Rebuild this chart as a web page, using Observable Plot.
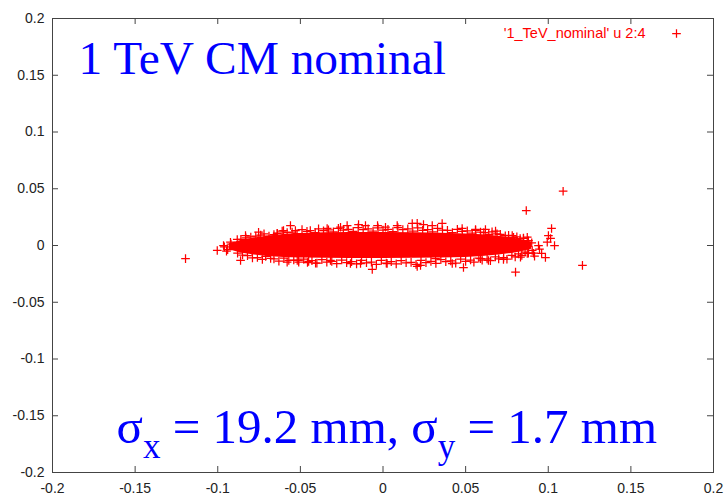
<!DOCTYPE html>
<html>
<head>
<meta charset="utf-8">
<script src="https://cdn.jsdelivr.net/npm/d3@7"></script>
<script src="https://cdn.jsdelivr.net/npm/@observablehq/plot@0.6"></script>
<style>
  html, body { margin: 0; padding: 0; background: #fff; }
</style>
</head>
<body>
<div id="chart"></div>
<script>
// ---- tick values ----
const xTicks = [-0.2, -0.15, -0.1, -0.05, 0, 0.05, 0.1, 0.15, 0.2];
const yTicks = [-0.2, -0.15, -0.1, -0.05, 0, 0.05, 0.1, 0.15, 0.2];

// ---- dense core of the beam (envelope) ----
const coreX      = [-0.093, -0.086, -0.078, -0.070, -0.060, -0.050, -0.035, -0.020, 0.000, 0.020, 0.035, 0.050, 0.060, 0.070, 0.078, 0.084, 0.090];
const coreTop    = [0.0015, 0.0045, 0.0065, 0.0082, 0.0098, 0.0106, 0.0112, 0.0114, 0.0114, 0.0112, 0.0108, 0.0102, 0.0094, 0.0082, 0.0068, 0.0050, 0.0030];
const coreBottom = [-0.0038, -0.0065, -0.0083, -0.0096, -0.0105, -0.0110, -0.0113, -0.0114, -0.0114, -0.0113, -0.0110, -0.0105, -0.0096, -0.0084, -0.0070, -0.0054, -0.0034];

// ---- individual visible points (x = column 2, y = column 4) ----
const scatterX = [
  -0.1195, -0.1003, -0.0965, -0.0947, -0.0923, -0.0882, -0.0862, -0.0832, -0.0792, -0.0753,
  -0.0640, -0.0602, -0.0580, -0.0519, -0.0560, -0.0530, -0.0511, -0.0457, -0.0408, -0.0338,
  -0.0318, -0.0257, -0.0217, -0.0197, -0.0148, -0.0136, -0.0106, -0.0065, -0.0033, 0.0015,
  0.0025, 0.0086, 0.0177, 0.0207, 0.0207, 0.0227, 0.0245, 0.0298, 0.0318, 0.0358,
  0.0419, 0.0479, 0.0487, 0.0560, 0.0590, 0.0620, 0.0638, 0.0681, 0.0729, 0.0782,
  0.0802, 0.0832, 0.0850, 0.0867, 0.0873, 0.0873, 0.0903, 0.0911, 0.0917, 0.0941,
  0.0947, 0.0960, 0.0983, 0.0994, 0.1001, 0.1014, 0.1020, 0.1038, 0.1090, 0.1207,
  -0.086, -0.080, -0.074, -0.069, -0.064, -0.058, -0.052, -0.046, -0.041, -0.036,
  -0.030, -0.024, -0.018, -0.012, -0.006, 0.000, 0.006, 0.012, 0.018, 0.024,
  0.030, 0.036, 0.042, 0.048, 0.054, 0.059, 0.064, 0.069, 0.074, 0.079,
  0.083, 0.088,
  -0.088, -0.082, -0.076, -0.071, -0.066, -0.060, -0.054, -0.048, -0.043, -0.037,
  -0.031, -0.025, -0.019, -0.013, -0.007, -0.001, 0.005, 0.011, 0.017, 0.023,
  0.029, 0.035, 0.041, 0.047, 0.053, 0.058, 0.063, 0.068, 0.073, 0.078,
  0.082, 0.086, -0.096, -0.092, -0.094,
  -0.083, -0.077, -0.072, -0.066, -0.061, -0.055, -0.049, -0.044, -0.039, -0.033,
  -0.027, -0.021, -0.015, -0.009, -0.003, 0.003, 0.009, 0.015, 0.021, 0.027,
  0.033, 0.039, 0.045, 0.051, 0.056, 0.061, 0.066, 0.071, 0.076, 0.081,
  0.085, 0.090,
  -0.085, -0.079, -0.073, -0.068, -0.063, -0.057, -0.051, -0.045, -0.040, -0.034,
  -0.028, -0.022, -0.016, -0.010, -0.004, 0.002, 0.008, 0.014, 0.020, 0.026,
  0.032, 0.038, 0.044, 0.050, 0.055, 0.060, 0.065, 0.070, 0.075, 0.080,
  0.084, 0.088
];
const scatterY = [
  -0.0115, -0.0044, 0.0000, -0.0050, 0.0029, 0.0053, -0.0132, 0.0088, -0.0044, 0.0117,
  0.0106, 0.0132, -0.0147, -0.0132, 0.0176, 0.0132, -0.0132, -0.0150, -0.0156, 0.0150,
  -0.0132, 0.0161, 0.0176, -0.0159, 0.0185, -0.0159, 0.0176, -0.0211, 0.0176, 0.0161,
  -0.0159, 0.0176, 0.0194, 0.0196, -0.0185, -0.0176, 0.0185, 0.0176, -0.0115, 0.0194,
  -0.0159, 0.0150, -0.0194, 0.0141, -0.0115, 0.0141, -0.0132, 0.0126, -0.0123, 0.0088,
  -0.0235, -0.0103, 0.0062, 0.0308, 0.0073, -0.0070, -0.0044, -0.0068, -0.0093, 0.0000,
  -0.0032, -0.0070, -0.0106, 0.0029, 0.0088, 0.0062, 0.0150, 0.0000, 0.0478, -0.0175,
  0.0055, 0.0075, 0.0092, 0.0082, 0.0108, 0.0114, 0.0104, 0.0124, 0.0114, 0.0130,
  0.0120, 0.0135, 0.0124, 0.0140, 0.0126, 0.0135, 0.0122, 0.0140, 0.0126, 0.0133,
  0.0120, 0.0135, 0.0114, 0.0124, 0.0108, 0.0118, 0.0098, 0.0102, 0.0086, 0.0072,
  0.0060, 0.0042,
  -0.0068, -0.0090, -0.0106, -0.0096, -0.0118, -0.0112, -0.0128, -0.0120, -0.0134, -0.0125,
  -0.0140, -0.0128, -0.0143, -0.0132, -0.0146, -0.0132, -0.0143, -0.0134, -0.0148, -0.0132,
  -0.0140, -0.0125, -0.0136, -0.0121, -0.0128, -0.0112, -0.0118, -0.0101, -0.0106, -0.0088,
  -0.0074, -0.0058, -0.0012, 0.0012, -0.0036,
  0.0068, 0.0082, 0.0102, 0.0096, 0.0126, 0.0118, 0.0140, 0.0132, 0.0146, 0.0137,
  0.0151, 0.0143, 0.0157, 0.0146, 0.0155, 0.0143, 0.0157, 0.0146, 0.0155, 0.0140,
  0.0151, 0.0134, 0.0143, 0.0129, 0.0134, 0.0114, 0.0121, 0.0099, 0.0090, 0.0076,
  0.0065, 0.0024,
  -0.0084, -0.0110, -0.0123, -0.0114, -0.0137, -0.0132, -0.0146, -0.0140, -0.0155, -0.0146,
  -0.0159, -0.0151, -0.0162, -0.0152, -0.0166, -0.0155, -0.0162, -0.0152, -0.0166, -0.0151,
  -0.0157, -0.0143, -0.0155, -0.0140, -0.0146, -0.0129, -0.0134, -0.0118, -0.0121, -0.0101,
  -0.0087, -0.0067
];

// ---- texts ----
const titleText = "1 TeV CM nominal";
const legendText = "'1_TeV_nominal' u 2:4";
const sigmaParts = [
  {text: "σ", sub: false},
  {text: "x", sub: true},
  {text: " = 19.2 mm, σ", sub: false},
  {text: "y", sub: true},
  {text: " = 1.7 mm", sub: false}
];

const core = coreX.map((x, i) => ({x, lo: coreBottom[i], hi: coreTop[i]}));
const points = scatterX.map((x, i) => ({x, y: scatterY[i]}));

const W = 725, H = 497;
const mT = 18, mR = 12, mB = 25, mL = 52;
const iW = W - mL - mR, iH = H - mT - mB;
const tickLen = 6;
const frameColor = "#444";
const plusR = 2.9;

const chart = Plot.plot({
  width: W, height: H,
  marginTop: mT, marginRight: mR, marginBottom: mB, marginLeft: mL,
  x: {domain: [-0.2, 0.2], label: null},
  y: {domain: [-0.2, 0.2], label: null},
  style: {fontFamily: "'Liberation Sans', Arial, sans-serif", fontSize: "14px", background: "#fff", color: "#222"},
  marks: [
    Plot.areaY(core, {x: "x", y1: "lo", y2: "hi", fill: "#ff0000", curve: "linear"}),
    Plot.dot(points, {x: "x", y: "y", symbol: "plus", r: plusR, stroke: "#ff0000", strokeWidth: 1.25}),
    Plot.frame({stroke: frameColor, strokeWidth: 1}),
    Plot.tickX(xTicks, {x: d => d, insetBottom: iH - tickLen, stroke: frameColor}),
    Plot.tickX(xTicks, {x: d => d, insetTop: iH - tickLen, stroke: frameColor}),
    Plot.tickY(yTicks, {y: d => d, insetRight: iW - tickLen, stroke: frameColor}),
    Plot.tickY(yTicks, {y: d => d, insetLeft: iW - tickLen, stroke: frameColor}),
    Plot.axisX({ticks: xTicks, tickSize: 0, tickPadding: 11, tickFormat: d => String(d), fill: "#222"}),
    Plot.axisY({ticks: yTicks, tickSize: 0, tickPadding: 8, tickFormat: d => String(d), fill: "#222"}),
    Plot.text([titleText], {text: d => d, frameAnchor: "top-left", textAnchor: "start", lineAnchor: "bottom",
      dx: 26, dy: 55, fill: "#0000ff", fontSize: 47.4, fontFamily: "'Liberation Serif', 'Times New Roman', serif"}),
    Plot.text([legendText], {text: d => d, frameAnchor: "top-right", textAnchor: "end", lineAnchor: "bottom",
      dx: -68, dy: 19, fill: "#ff0000", fontSize: 14.5}),
    Plot.dot([legendText], {frameAnchor: "top-right", dx: -37, dy: 15, symbol: "plus", r: plusR, stroke: "#ff0000", strokeWidth: 1.25}),
    Plot.text(["sigma"], {text: d => d, frameAnchor: "bottom-left", textAnchor: "start", lineAnchor: "bottom",
      dx: 64, dy: -30, fill: "#0000ff", fontSize: 49, fontFamily: "'Liberation Serif', 'Times New Roman', serif",
      className: "sigma-label"})
  ]
});

document.getElementById("chart").appendChild(chart);

// rich text with subscripts for the sigma label
const t = d3.select(chart).select(".sigma-label text");
t.text(null);
let shifted = false;
sigmaParts.forEach(p => {
  const ts = t.append("tspan").text(p.text);
  if (p.sub && !shifted) { ts.attr("dy", 15).attr("font-size", 35); shifted = true; }
  else if (!p.sub && shifted) { ts.attr("dy", -15); shifted = false; }
});
</script>
</body>
</html>
